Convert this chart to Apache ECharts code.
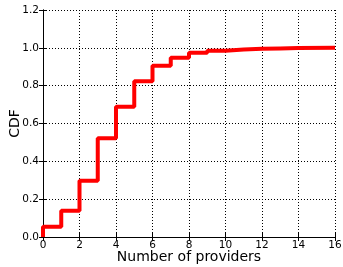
<!DOCTYPE html>
<html>
<head>
<meta charset="utf-8">
<script src="https://cdn.jsdelivr.net/npm/echarts@6/dist/echarts.min.js"></script>
<style>
  html, body { margin: 0; padding: 0; background: #fff; }
  #chart { width: 343px; height: 267px; }
</style>
</head>
<body>
<div id="chart"></div>
<script>
// number of providers (step positions) and CDF value held from each one
const providers = [0, 0, 1, 2, 3, 4, 5, 6, 7, 8, 9, 10, 11, 12, 13, 14, 16];
const cdfValues = [0, 0.054, 0.139, 0.298, 0.522, 0.689, 0.823, 0.905, 0.948, 0.974, 0.985, 0.991, 0.995, 0.997, 0.999, 1.0, 1.0];
const xTicks = [0, 2, 4, 6, 8, 10, 12, 14, 16];
const yTicks = [0.0, 0.2, 0.4, 0.6, 0.8, 1.0, 1.2];

const font = 'DejaVu Sans';
const chart = echarts.init(document.getElementById('chart'));

const points = providers.map((x, i) => [x, cdfValues[i]]);

const dotted = { show: true, lineStyle: { color: '#000', type: [1, 2], width: 1 } };

const option = {
    animation: false,
    grid: { left: 43, right: 8, top: 10, bottom: 30, show: false, containLabel: false, outerBoundsMode: 'none' },
    xAxis: [
        {
            type: 'value', min: xTicks[0], max: xTicks[xTicks.length - 1], interval: 2,
            name: 'Number of providers', nameLocation: 'middle', nameGap: 13, nameMoveOverlap: false,
            nameTextStyle: { fontFamily: font, fontSize: 14, color: '#000' },
            axisLine: { lineStyle: { color: '#000', width: 1 } },
            axisTick: { inside: true, length: 4, lineStyle: { color: '#000' } },
            axisLabel: { fontFamily: font, fontSize: 10.5, color: '#000', margin: 3 },
            splitLine: dotted
        },
        {
            type: 'value', position: 'top', min: xTicks[0], max: xTicks[xTicks.length - 1], interval: 2,
            axisLine: { show: true, lineStyle: { color: '#000', width: 1 } },
            axisTick: { inside: true, length: 4, lineStyle: { color: '#000' } },
            axisLabel: { show: false }, splitLine: { show: false }
        }
    ],
    yAxis: [
        {
            type: 'value', min: yTicks[0], max: yTicks[yTicks.length - 1], interval: 0.2,
            name: 'CDF', nameLocation: 'middle', nameGap: 21, nameMoveOverlap: false,
            nameTextStyle: { fontFamily: font, fontSize: 14, color: '#000' },
            axisLine: { show: true, lineStyle: { color: '#000', width: 1 } },
            axisTick: { inside: true, length: 4, lineStyle: { color: '#000' } },
            axisLabel: {
                fontFamily: font, fontSize: 10.5, color: '#000', margin: 4,
                formatter: v => v.toFixed(1)
            },
            splitLine: dotted
        },
        {
            type: 'value', position: 'right', min: yTicks[0], max: yTicks[yTicks.length - 1], interval: 0.2,
            axisLine: { show: true, lineStyle: { color: '#000', width: 1 } },
            axisTick: { inside: true, length: 4, lineStyle: { color: '#000' } },
            axisLabel: { show: false }, splitLine: { show: false }
        }
    ],
    series: [{
        type: 'line',
        step: 'end',
        data: points,
        showSymbol: false,
        lineStyle: { color: '#ff0000', width: 4 },
        z: 3
    }]
};

chart.setOption(option);
</script>
</body>
</html>
